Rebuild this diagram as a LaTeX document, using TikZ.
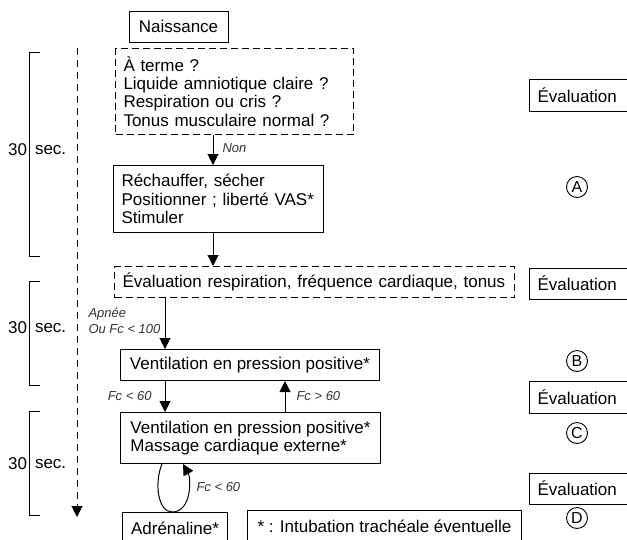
\documentclass[tikz,border=0pt]{standalone}
\usepackage{fontspec}
\setmainfont{Liberation Sans}
\usetikzlibrary{arrows, arrows.meta}
\usetikzlibrary{calc}

\begin{document}
\begin{tikzpicture}[x=1pt, y=-1pt, line width=1pt,
    font=\fontsize{17}{18.3}\selectfont,
    boite/.style={draw, inner xsep=8pt, inner ysep=0pt, align=left, anchor=north west},
    pointilles/.style={dash pattern=on 7pt off 4pt},
    fleche/.style={-{Triangle[length=11pt,width=11pt]}},
    condition/.style={font=\fontsize{13}{16}\selectfont\itshape, text=black!80, inner sep=1pt, align=left},
    etape/.style={circle, draw, line width=0.9pt, inner sep=0pt, minimum size=21pt, font=\fontsize{16}{16}\selectfont},
    evaluation/.style={draw, anchor=west, inner xsep=8pt, text width=105pt}]
  \useasboundingbox (0,0) rectangle (627,539);

  % colonne centrale
  \node[draw, minimum width=99pt, minimum height=31pt] (naiss) at (178.5,26.5) {Naissance};
  \node[boite, pointilles, text width=222pt, minimum height=86pt] (ques) at (115,48) {À terme ?\\Liquide amniotique claire ?\\Respiration ou cris ?\\Tonus musculaire normal ?};
  \node[boite, text width=194pt, minimum height=67pt] (rech) at (113,165) {Réchauffer, sécher\\Positionner ; liberté VAS*\\Stimuler};
  \node[boite, pointilles, text width=384pt, minimum height=31pt] (evresp) at (114,266) {Évaluation respiration, fréquence cardiaque, tonus};
  \node[boite, minimum width=259pt, minimum height=31pt] (vent) at (120,349) {Ventilation en pression positive*};
  \node[boite, minimum width=260pt, minimum height=51pt] (massage) at (120,412) {Ventilation en pression positive*\\Massage cardiaque externe*};
  \node[boite, minimum width=105pt, minimum height=31pt, align=center] (adre) at (122,512) {Adrénaline*};
  \node[boite, minimum width=274pt, minimum height=31pt, align=center] (intub) at (247,510) {* : Intubation trachéale éventuelle};

  % colonne de droite
  \node[evaluation, minimum height=32pt] (eval1) at (529,95) {Évaluation};
  \node[evaluation, minimum height=31pt] (eval2) at (529,283.5) {Évaluation};
  \node[evaluation, minimum height=32pt] (eval3) at (529,397) {Évaluation};
  \node[evaluation, minimum height=31pt] (eval4) at (529,488.5) {Évaluation};
  \node[etape] (etA) at (577,187) {A};
  \node[etape] (etB) at (577,361) {B};
  \node[etape] (etC) at (577,433) {C};
  \node[etape] (etD) at (577,518) {D};

  % fleches
  \coordinate (xa) at (213,0);
  \coordinate (xb) at (165,0);
  \coordinate (xc) at (285,0);
  \draw[fleche] (ques.south -| xa) -- (rech.north -| xa);
  \draw[fleche] (rech.south -| xa) -- (evresp.north -| xa);
  \draw[fleche] (evresp.south -| xb) -- (vent.north -| xb);
  \draw[fleche] (vent.south -| xb) -- (massage.north -| xb);
  \draw[fleche] (massage.north -| xc) -- (vent.south -| xc);

  \coordinate (xg) at (162,0);
  \coordinate (xm) at (172,0);
  \coordinate (xd) at (183,0);
  \draw[fleche] (massage.south -| xg) .. controls (154,483) and (158,512) .. (adre.north -| xm) .. controls (192,512) and (191,478) .. (massage.south -| xd);

  \node[condition, anchor=west] (non) at (221,148) {Non};
  \node[condition, anchor=west] (apnee) at (87,321) {Apnée\\Ou Fc < 100};
  \node[condition, anchor=east] (fcinf) at (153,396) {Fc < 60};
  \node[condition, anchor=west] (fcsup) at (295,396) {Fc > 60};
  \node[condition, anchor=west] (fcboucle) at (195,487) {Fc < 60};

  % echelle de temps
  \coordinate (t0) at (77,48);
  \coordinate (t1) at (77,517);
  \draw[fleche, dash pattern=on 7pt off 5pt] (t0) -- (t1);

  \draw (40,52) -- (29,52) -- (29,256) -- (40,256);
  \draw (40,281) -- (29,281) -- (29,385) -- (40,385);
  \draw (40,411) -- (29,411) -- (29,515) -- (40,515);
  \node[anchor=east, inner sep=0.5pt] (trente1) at (28,150) {30};
  \node[anchor=west, inner sep=0.5pt] (sec1) at (34,150) {sec.};
  \node[anchor=east, inner sep=0.5pt] (trente2) at (28,328) {30};
  \node[anchor=west, inner sep=0.5pt] (sec2) at (34,328) {sec.};
  \node[anchor=east, inner sep=0.5pt] (trente3) at (28,464) {30};
  \node[anchor=west, inner sep=0.5pt] (sec3) at (34,464) {sec.};
\end{tikzpicture}
\end{document}
